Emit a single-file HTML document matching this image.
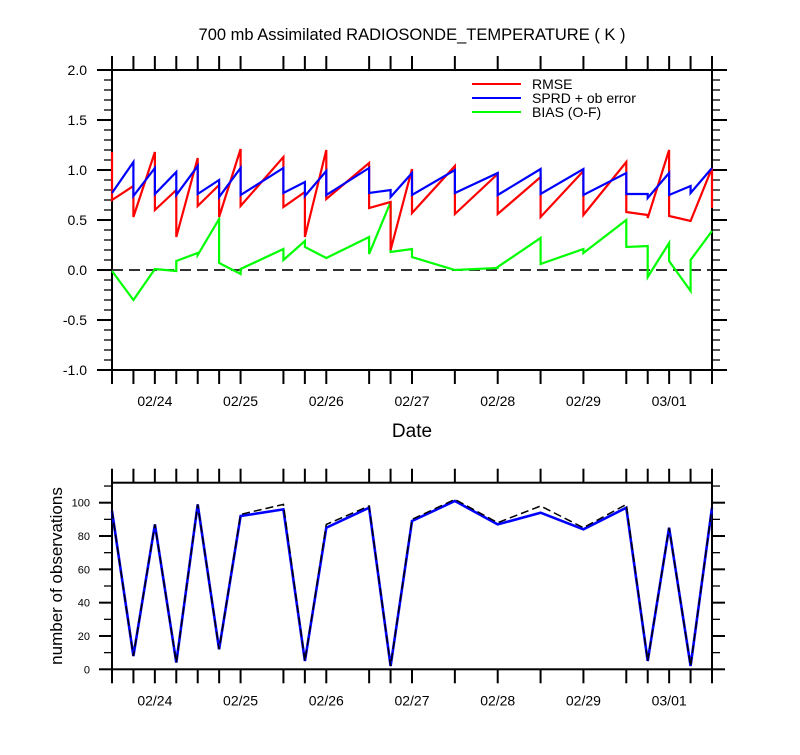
<!DOCTYPE html>
<html><head><meta charset="utf-8"><style>
body{margin:0;background:#fff;}
svg text{font-family:"Liberation Sans",Arial,sans-serif;fill:#000;}
</style></head><body>
<svg id="chart" width="800" height="750" xmlns="http://www.w3.org/2000/svg">
<text x="412" y="40" font-size="16.5" text-anchor="middle">700 mb Assimilated RADIOSONDE_TEMPERATURE ( K )</text>
<text x="412" y="437" font-size="19" text-anchor="middle">Date</text>
<text x="0" y="0" font-size="17" text-anchor="middle" transform="translate(62,576) rotate(-90)">number of observations</text>
<g id="topPanel"></g>
<g id="botPanel"></g>
<g>
<line x1="472" y1="84" x2="521" y2="84" stroke="#ff0000" stroke-width="2"/>
<text x="532" y="89" font-size="14">RMSE</text>
<line x1="472" y1="98" x2="521" y2="98" stroke="#0000ff" stroke-width="2"/>
<text x="532" y="103" font-size="14">SPRD + ob error</text>
<line x1="472" y1="112" x2="521" y2="112" stroke="#00ff00" stroke-width="2"/>
<text x="532" y="117" font-size="14">BIAS (O-F)</text>
</g>
</svg>
<script>
const hours=[0,6,12,18,24,30,36,48,54,60,72,78,84,96,108,120,132,144,150,156,162,168];
const rmseIn=[1.18,0.84,1.18,0.80,1.12,0.85,1.21,1.13,0.78,1.20,1.07,0.68,1.01,1.04,0.96,0.93,0.99,1.08,0.55,1.20,0.49,1.02];
const rmseOut=[0.70,0.53,0.60,0.33,0.64,0.53,0.64,0.63,0.33,0.71,0.62,0.20,0.57,0.56,0.56,0.53,0.55,0.58,0.52,0.54,0.49,0.62];
const sprdIn=[0.77,1.08,1.02,0.98,1.04,0.90,1.02,1.02,0.88,0.99,1.02,0.80,0.97,1.00,0.97,1.01,1.01,0.97,0.76,0.97,0.84,1.02];
const sprdOut=[0.77,0.74,0.76,0.75,0.76,0.73,0.75,0.77,0.74,0.75,0.77,0.73,0.75,0.77,0.75,0.76,0.75,0.76,0.72,0.75,0.77,1.02];
const biasIn=[-0.01,-0.30,0.01,-0.01,0.17,0.51,-0.04,0.21,0.29,0.12,0.33,0.68,0.21,0.00,0.02,0.32,0.21,0.50,0.24,0.27,-0.21,0.39];
const biasOut=[-0.01,-0.30,0.01,0.09,0.15,0.07,0.01,0.10,0.23,0.12,0.16,0.18,0.13,0.00,0.03,0.06,0.17,0.23,-0.07,0.09,0.10,0.39];
const obsUsed=[95,8,87,4,99,12,92,96,5,85,97,2,89,101,87,94,84,97,5,85,2,97];
const obsTotal=[95,8,87,4,99,12,93,99,5,87,98,2,90,102,88,98,85,99,5,85,2,97];
const dateLabels=["02/24","02/25","02/26","02/27","02/28","02/29","03/01"];
const dateHours=[12,36,60,84,108,132,156];
const topTicks=[-1.0,-0.5,0.0,0.5,1.0,1.5,2.0];
const botTicks=[0,20,40,60,80,100];

const NS="http://www.w3.org/2000/svg";
const X0=112,X1=712;
function xs(h){return X0+h*(X1-X0)/168;}
function yt(v){return 270-v*100;}
function yb(v){return 669.3-v*(669.3-482.7)/112;}
function mk(parent,tag,attrs){const e=document.createElementNS(NS,tag);for(const k in attrs)e.setAttribute(k,attrs[k]);parent.appendChild(e);return e;}
const topG=document.getElementById('topPanel'),botG=document.getElementById('botPanel');

function frame(g,yTop,yBot,name){
  const r=mk(g,'rect',{x:X0,y:yTop,width:X1-X0,height:yBot-yTop,fill:'none',stroke:'#000','stroke-width':2});
  
  
  hours.forEach(h=>{
    const x=xs(h);
    const a=mk(g,'line',{x1:x,y1:yBot,x2:x,y2:yBot+14,stroke:'#000','stroke-width':2});
    
    
    const b=mk(g,'line',{x1:x,y1:yTop,x2:x,y2:yTop-14,stroke:'#000','stroke-width':2});
    
    
  });
  dateLabels.forEach((d,i)=>{
    const t=mk(g,'text',{x:xs(dateHours[i]),y:yBot+36,'font-size':14,'text-anchor':'middle'});
    t.textContent=d;
    
    
  });
}
function poly(g,pts,color,w,name,dash){
  const a={points:pts.map(p=>p[0].toFixed(1)+','+p[1].toFixed(1)).join(' '),fill:'none',stroke:color,'stroke-width':w,'stroke-linejoin':'miter'};
  if(dash)a['stroke-dasharray']=dash;
  const p=mk(g,'polyline',a);
  
  
}
// top panel
frame(topG,70,370,'top');
for(let v=-1.0;v<=2.001;v+=0.1){
  const y=yt(v);const major=Math.abs(v*2-Math.round(v*2))<1e-6;
  const l=mk(topG,'line',{x1:X0-(major?15:8),y1:y,x2:X0,y2:y,stroke:'#000','stroke-width':major?2:1.3});
  
  
  const r=mk(topG,'line',{x1:X1,y1:y,x2:X1+(major?15:8),y2:y,stroke:'#000','stroke-width':major?2:1.3});
  
  
}
topTicks.forEach(v=>{
  const t=mk(topG,'text',{x:87,y:yt(v)+5,'font-size':14,'text-anchor':'end'});
  t.textContent=v.toFixed(1);
  
  
});
const z=mk(topG,'line',{x1:X0,y1:yt(0),x2:X1,y2:yt(0),stroke:'#333','stroke-width':2,'stroke-dasharray':'11,6'});


function pairPts(inA,outA,ys){const p=[];hours.forEach((h,i)=>{p.push([xs(h),ys(inA[i])]);if(outA[i]!==inA[i])p.push([xs(h),ys(outA[i])]);});return p;}
poly(topG,pairPts(biasIn,biasOut,yt),'#00ff00',2.2,'bias-line');
poly(topG,pairPts(rmseIn,rmseOut,yt),'#ff0000',2.2,'rmse-line');
poly(topG,pairPts(sprdIn,sprdOut,yt),'#0000ff',2.2,'sprd-line');
// bottom panel
frame(botG,482.7,669.3,'bottom');
for(let v=0;v<=110;v+=10){
  const y=yb(v);const major=v%20===0;
  const l=mk(botG,'line',{x1:X0-(major?13:8),y1:y,x2:X0,y2:y,stroke:'#000','stroke-width':major?2:1.3});
  
  
  const r=mk(botG,'line',{x1:X1,y1:y,x2:X1+(major?13:8),y2:y,stroke:'#000','stroke-width':major?2:1.3});
  
  
}
botTicks.forEach(v=>{
  const t=mk(botG,'text',{x:90,y:yb(v)+4,'font-size':11,'text-anchor':'end'});
  t.textContent=v;
  
  
});
poly(botG,hours.map((h,i)=>[xs(h),yb(obsUsed[i])]),'#0000ff',2.6,'obs-used-line');
poly(botG,hours.map((h,i)=>[xs(h),yb(obsTotal[i])]),'#000',1.5,'obs-total-line','8,4');
</script>
</body></html>
